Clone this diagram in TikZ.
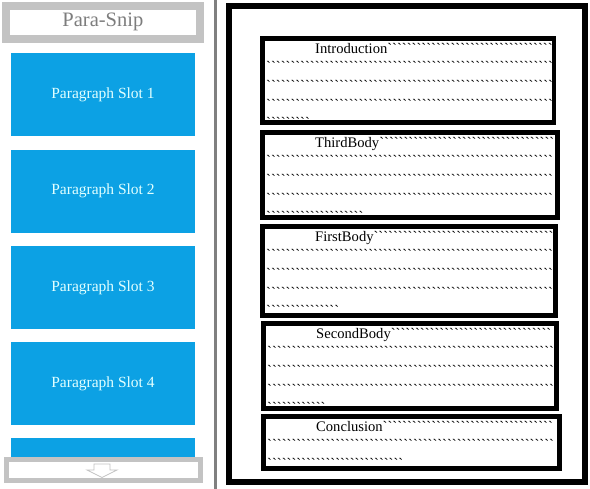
\documentclass[tikz,border=0pt]{standalone}
\usepackage{fontspec}
\setmainfont{Liberation Serif}[Ligatures=TeXOff]

\definecolor{slotblue}{RGB}{12,161,228}
\definecolor{slottext}{RGB}{225,255,255}
\definecolor{bargray}{RGB}{195,195,195}
\definecolor{titlegray}{RGB}{125,125,125}
\definecolor{sepgray}{RGB}{128,128,128}

% a row of grave marks
\newcommand\ticks[1]{\foreach\k in {1,...,#1}{`}}

\begin{document}
\begin{tikzpicture}[x=1pt,y=-1pt,
  header/.style={draw=bargray, line width=8, outer sep=0, inner sep=0, anchor=north west,
    minimum width=194.3, minimum height=33, text=titlegray, font=\fontsize{20.5}{24}\selectfont},
  slot/.style={fill=slotblue, outer sep=0, inner sep=0, anchor=north west,
    minimum width=184, minimum height=83, text=slottext, font=\fontsize{15.5}{18}\selectfont},
  scroll/.style={draw=bargray, fill=white, line width=5, outer sep=0, anchor=north west,
    minimum width=194, minimum height=21},
  page/.style={draw, line width=6, outer sep=0, anchor=north west},
  part/.style={draw, line width=4.5, outer sep=0, anchor=north west},
  row/.style={anchor=base west, inner sep=0, font=\fontsize{14.6}{18.6}\selectfont}]
\useasboundingbox (0,0) rectangle (590,489);

% Left panel: header and paragraph slots
\node[header] (header) at (5.7,5.7) {Para-Snip};
\foreach \n in {1,...,4}
  \node[slot] (slot\n) at (11,{53.5+96.2*(\n-1)}) {Paragraph Slot \n};
\node[slot, minimum height=21] (slot5) at (11,438.3) {};

% Scroll bar with the down arrow
\node[scroll] (scroll) at (6.5,459.5) {};
\coordinate (arrow) at (102,464);
\draw[bargray, line width=0.8] (arrow) ++(-8,0) -- ++(16,0) -- ++(0,6) -- ++(7,0)
  -- ++(-15,7.5) -- ++(-15,-7.5) -- ++(7,0) -- cycle;

% Separator
\draw[sepgray, line width=2.5] (215.3,0) -- (215.3,489);

% Right panel: the page and its parts
\node[page, minimum width=356, minimum height=476] (page) at (228.5,6.5) {};
\node[part, minimum width=291.5, minimum height=84.4] (intro) at (262.3,38.3) {};
\node[part, minimum width=295.4, minimum height=85.4] (third) at (262.3,132.3) {};
\node[part, minimum width=293.4, minimum height=89.4] (first) at (262.3,226.3) {};
\node[part, minimum width=293.4, minimum height=85.4] (second) at (263.3,323.3) {};
\node[part, minimum width=296.4, minimum height=52.2] (concl) at (263.3,416.3) {};

% Titles and rows of marks
\foreach \p/\t/\a/\r/\b in {intro/Introduction/34/3/9, third/ThirdBody/36/3/20,
    first/FirstBody/37/3/15, second/SecondBody/33/3/12, concl/Conclusion/35/1/28} {
  \node[row] (\p-title) at ([shift={(52.7,15)}]\p.north west) {\t\ticks{\a}};
  \foreach \k in {1,...,\r}
    \node[row] (\p-row\k) at ([shift={(3.7,{15+18.6*\k})}]\p.north west) {\ticks{59}};
  \node[row] (\p-last) at ([shift={(3.7,{15+18.6*(\r+1)})}]\p.north west) {\ticks{\b}};
}

\end{tikzpicture}
\end{document}
